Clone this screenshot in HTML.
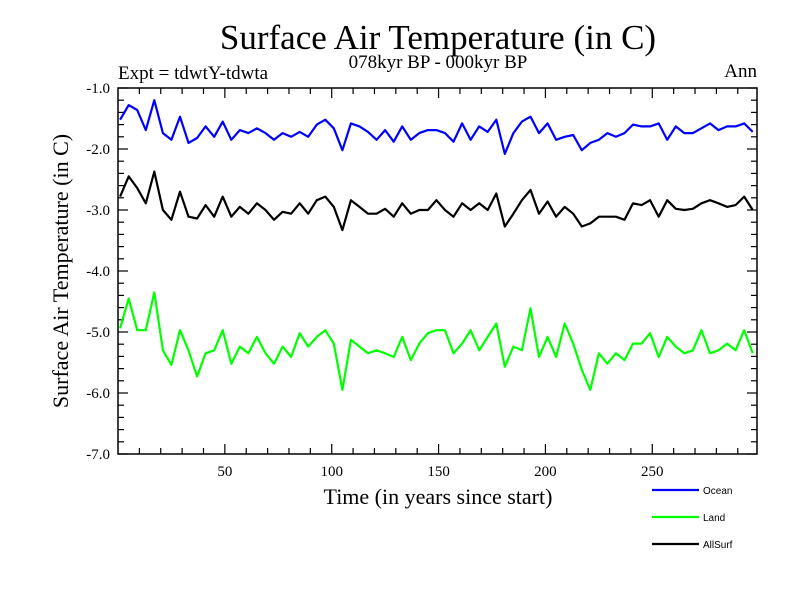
<!DOCTYPE html>
<html><head><meta charset="utf-8"><style>
body{margin:0;background:#fff;}
svg{display:block;font-family:"Liberation Serif",serif;}
</style></head><body>
<svg id="chart" width="800" height="600" xmlns="http://www.w3.org/2000/svg">
<rect width="800" height="600" fill="#fff"/>
<text x="438" y="49" font-size="35" text-anchor="middle">Surface Air Temperature (in C)</text>
<text x="438" y="68" font-size="19" text-anchor="middle">078kyr BP - 000kyr BP</text>
<text x="118" y="79" font-size="19">Expt = tdwtY-tdwta</text>
<text x="757" y="77" font-size="19" text-anchor="end">Ann</text>
<text transform="translate(68,271) rotate(-90)" font-size="22" text-anchor="middle">Surface Air Temperature (in C)</text>
<text x="438" y="504" font-size="22" text-anchor="middle">Time (in years since start)</text>
<g id="axes"></g>
<g id="series"></g>
<g id="legend" font-family="Liberation Sans, sans-serif" font-size="10"></g>
</svg>
<script>
const years=[];for(let i=0;i<75;i++)years.push(1+4*i);
const ocean=[-1.52,-1.28,-1.36,-1.69,-1.2,-1.74,-1.85,-1.47,-1.9,-1.82,-1.63,-1.8,-1.55,-1.85,-1.69,-1.74,-1.66,-1.74,-1.85,
-1.74,-1.8,-1.72,-1.8,-1.6,-1.52,-1.66,-2.02,-1.58,-1.63,-1.72,-1.85,-1.69,-1.88,-1.63,-1.85,-1.74,-1.69,-1.69,
-1.74,-1.88,-1.58,-1.85,-1.63,-1.72,-1.52,-2.08,-1.74,-1.55,-1.47,-1.74,-1.58,-1.85,-1.8,-1.77,-2.02,-1.9,
-1.85,-1.74,-1.8,-1.74,-1.6,-1.63,-1.63,-1.58,-1.85,-1.63,-1.74,-1.74,-1.66,-1.58,-1.69,-1.63,-1.63,-1.58,-1.72];
const allsurf=[-2.78,-2.45,-2.64,-2.89,-2.37,-3.0,-3.16,-2.7,-3.11,-3.14,-2.92,-3.11,-2.78,-3.11,-2.95,-3.06,-2.89,-3.0,-3.16,
-3.03,-3.06,-2.89,-3.06,-2.84,-2.78,-2.95,-3.33,-2.84,-2.95,-3.06,-3.06,-2.98,-3.11,-2.89,-3.06,-3.0,-3.0,-2.84,
-3.0,-3.11,-2.89,-3.0,-2.89,-3.0,-2.73,-3.27,-3.06,-2.84,-2.67,-3.06,-2.86,-3.11,-2.95,-3.06,-3.27,-3.22,
-3.11,-3.11,-3.11,-3.16,-2.89,-2.92,-2.84,-3.11,-2.84,-2.98,-3.0,-2.98,-2.89,-2.84,-2.89,-2.95,-2.92,-2.78,-3.0];
const land=[-4.94,-4.45,-4.97,-4.97,-4.35,-5.3,-5.54,-4.97,-5.3,-5.73,-5.35,-5.3,-4.97,-5.52,-5.24,-5.35,-5.08,-5.35,-5.52,
-5.24,-5.41,-5.02,-5.24,-5.08,-4.97,-5.19,-5.95,-5.13,-5.24,-5.35,-5.3,-5.35,-5.41,-5.08,-5.46,-5.19,-5.02,-4.97,
-4.97,-5.35,-5.19,-4.97,-5.3,-5.08,-4.86,-5.57,-5.24,-5.3,-4.61,-5.41,-5.08,-5.41,-4.86,-5.19,-5.62,-5.95,
-5.35,-5.52,-5.35,-5.46,-5.19,-5.19,-5.02,-5.41,-5.08,-5.24,-5.35,-5.3,-4.97,-5.35,-5.3,-5.19,-5.3,-4.97,-5.35];
const yTicks=[-1,-2,-3,-4,-5,-6,-7];
const xTicks=[50,100,150,200,250];
const seriesNames=["Ocean","Land","AllSurf"];
const L=118,R=757,T=88,B=454;
const xs=v=>L+(v-0)*(R-L)/299;
const ys=v=>T+(-1-v)*(B-T)/6;
const NS="http://www.w3.org/2000/svg";
function mk(tag,attrs,parent){const e=document.createElementNS(NS,tag);for(const k in attrs)e.setAttribute(k,attrs[k]);parent.appendChild(e);return e;}
const ax=document.getElementById('axes');
const frame=mk('rect',{x:L,y:T,width:R-L,height:B-T,fill:'none',stroke:'#000','stroke-width':1.5},ax);


for(let v=-7;v<=-1.0001+0.2;v+=0.2){const y=ys(v);const major=Math.abs(v-Math.round(v))<0.01;const len=major?10:6;
 mk('line',{x1:L,x2:L+len,y1:y,y2:y,stroke:'#000','stroke-width':1.2},ax);
 mk('line',{x1:R,x2:R-len,y1:y,y2:y,stroke:'#000','stroke-width':1.2},ax);}
yTicks.forEach(v=>{const t=mk('text',{x:L-8,y:ys(v)+5,'font-size':15,'text-anchor':'end'},ax);t.textContent=v.toFixed(1);
 
 });
for(let v=10;v<299;v+=10){const x=xs(v);const len=(v%50===0)?10:6;
 mk('line',{x1:x,x2:x,y1:B,y2:B-len,stroke:'#000','stroke-width':1.2},ax);
 mk('line',{x1:x,x2:x,y1:T,y2:T+len,stroke:'#000','stroke-width':1.2},ax);}
xTicks.forEach(v=>{const t=mk('text',{x:xs(v),y:B+22,'font-size':15,'text-anchor':'middle'},ax);t.textContent=v;
 
 });
const sg=document.getElementById('series');
const defs=[[ocean,'#0000ff','ocean-line'],[land,'#00ff00','land-line'],[allsurf,'#000000','allsurf-line']];
defs.forEach(d=>{const pts=years.map((yr,i)=>xs(yr).toFixed(1)+','+ys(d[0][i]).toFixed(1)).join(' ');
 const p=mk('polyline',{points:pts,fill:'none',stroke:d[1],'stroke-width':2.2,'stroke-linejoin':'round'},sg);
 
 });
const lg=document.getElementById('legend');
const lc=['#0000ff','#00ff00','#000000'];
seriesNames.forEach((n,i)=>{const y=490+27*i;
 const l=mk('line',{x1:652,x2:699,y1:y,y2:y,stroke:lc[i],'stroke-width':2.2},lg);
 
 
 const t=mk('text',{x:703,y:y+4},lg);t.textContent=n;
 
 });
</script>
</body></html>
